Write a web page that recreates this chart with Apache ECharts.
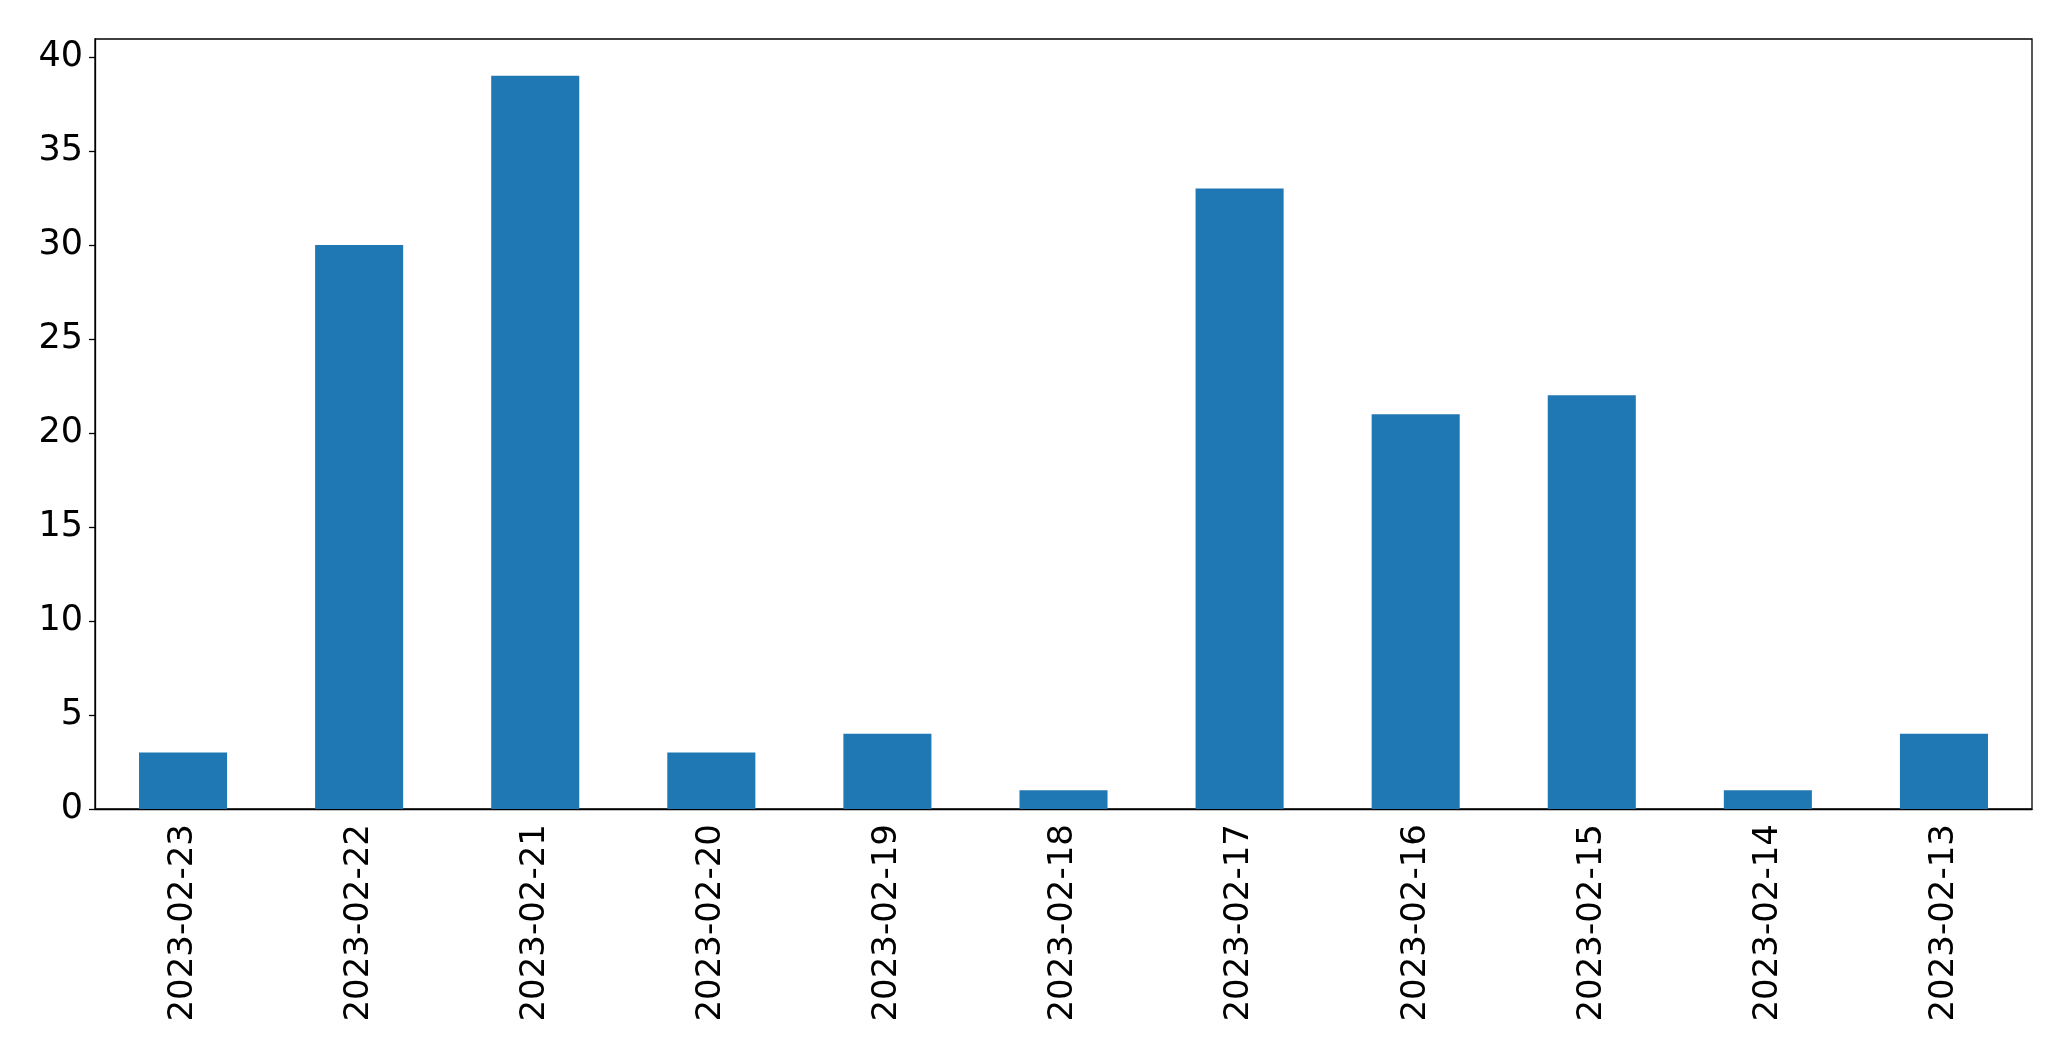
<!DOCTYPE html>
<html><head><meta charset="utf-8">
<script src="https://cdn.jsdelivr.net/npm/echarts@6/dist/echarts.min.js"></script>
<style>html,body{margin:0;padding:0;background:#fff}#c{width:2071px;height:1061px}</style>
</head><body><div id="c"></div>
<script>
const categories = ["2023-02-23","2023-02-22","2023-02-21","2023-02-20","2023-02-19","2023-02-18","2023-02-17","2023-02-16","2023-02-15","2023-02-14","2023-02-13"];
const values = [3, 30, 39, 3, 4, 1, 33, 21, 22, 1, 4];
const yTicks = [0, 5, 10, 15, 20, 25, 30, 35, 40];

const chart = echarts.init(document.getElementById('c'), null, {renderer: 'canvas'});
const font = 'DejaVu Sans';
chart.setOption({
  animation: false,
  backgroundColor: '#fff',
  grid: {left: 95, right: 39, top: 39, bottom: 252, show: true, borderColor: '#000', borderWidth: 1.3, backgroundColor: 'transparent'},
  xAxis: {
    type: 'category', data: categories, boundaryGap: true,
    axisLine: {lineStyle: {color: '#000', width: 1.3}},
    axisTick: {alignWithLabel: true, length: 6, lineStyle: {color: '#000', width: 1.3}},
    axisLabel: {rotate: 90, fontFamily: font, fontSize: 34, color: '#000', margin: 15, interval: 0}
  },
  yAxis: {
    type: 'value', min: 0, max: 40.95,
    splitLine: {show: false},
    axisLine: {show: true, lineStyle: {color: '#000', width: 1.3}},
    axisTick: {show: true, length: 6, lineStyle: {color: '#000', width: 1.3}, customValues: yTicks},
    axisLabel: {fontFamily: font, fontSize: 35, color: '#000', margin: 12, customValues: yTicks}
  },
  series: [{type: 'bar', data: values, barWidth: '50%', itemStyle: {color: '#1f77b4'}}]
});
</script></body></html>
